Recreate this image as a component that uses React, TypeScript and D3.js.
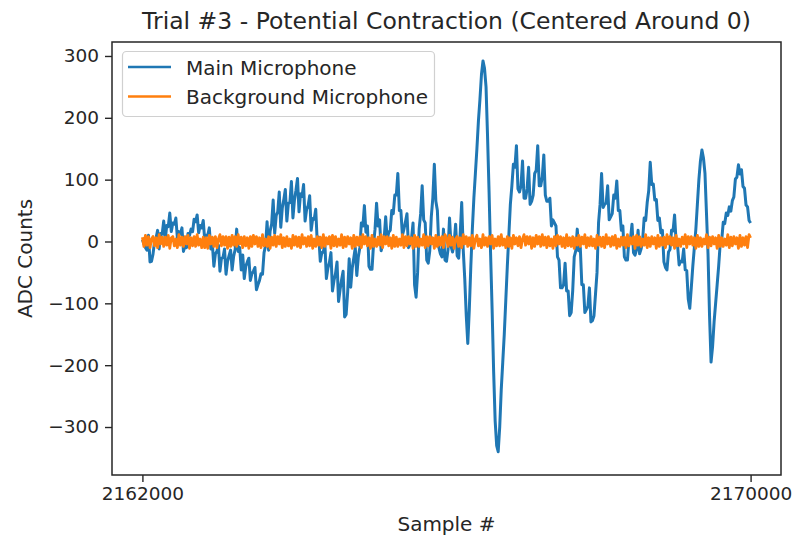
import React, { useEffect, useRef } from 'react';
import * as d3 from 'd3';

// samples start at 2162000, one value every 20 samples
const sampleStart = 2162000;
const sampleStep = 20;

const mainMic = [
  3, -4, -10, -14, 10, -33, -32, -20, 0, 6, 18, -12, 13, 12, 33, 2, 26, 24, 46, 16,
  30, 28, 38, 6, 16, 12, 22, -16, -7, -10, 13, 10, 20, 16, 36, 32, 43, 14, 26, 22,
  34, 2, 10, 10, 22, -12, -4, -40, -20, -16, -6, -48, -27, -26, -12, -53, -32, -23, -14, -46,
  -24, -13, 20, -16, -10, -46, -22, -60, -40, -33, -27, -63, -52, -48, -42, -78, -70, -63, -52, -53,
  -18, -7, 32, -14, 17, 28, 67, 13, 42, 48, 80, 23, 54, 68, 84, 33, 62, 63, 97, 38,
  67, 83, 102, 48, 77, 73, 92, 33, 52, 58, 74, 18, 37, 36, 52, -2, 7, -32, -18, -17,
  -3, -60, -43, -34, -18, -80, -63, -52, -33, -97, -78, -62, -48, -122, -118, -82, -28, -74, -43, -27,
  -10, -55, -25, -10, 30, 25, 58, 15, 25, -40, -45, -45, -5, 20, 62, 25, 35, -15, -5, 5,
  40, 2, 15, 18, 50, 45, 75, 75, 110, 50, 50, 10, 20, 32, 45, -10, -5, 5, 30, -70,
  -90, -50, 20, 45, 90, 35, 30, -30, -35, -15, 40, 70, 125, 65, 50, -10, -20, -25, 20, -30,
  -32, -13, 38, -8, -17, -3, 28, -23, -27, 12, 63, -13, -60, -120, -165, -110, -40, 20, 70, 110,
  150, 195, 230, 270, 292, 280, 250, 170, 80, -20, -110, -210, -290, -330, -340, -300, -240, -195, -150, -95,
  -40, 10, 60, 90, 125, 120, 155, 85, 80, 90, 130, 70, 70, 85, 120, 60, 65, 75, 110, 115,
  155, 90, 90, 105, 140, 75, 65, 65, 70, 25, 35, 30, 25, -25, -30, -75, -75, -70, -35, -80,
  -80, -120, -115, -80, -25, -15, 20, -15, -10, -70, -70, -115, -110, -105, -75, -130, -128, -120, -85, -50,
  30, 60, 110, 55, 60, 62, 90, 35, 40, 45, 75, 70, 98, 50, 50, 18, 25, -25, -30, -30,
  3, 4, 28, -18, -22, -13, 18, -20, -12, 2, 38, 34, 63, 82, 128, 92, 93, 67, 68, 34,
  38, 14, 18, -33, -42, -46, -17, -13, 18, 17, 43, 0, -7, -38, -32, -33, -12, -46, -47, -93,
  -108, -75, -40, -10, 20, 60, 100, 130, 148, 135, 110, 45, -20, -120, -195, -170, -130, -100, -70, -40,
  -4, 2, 31, 29, 46, 42, 56, 49, 66, 72, 101, 104, 124, 109, 116, 89, 86, 59, 56, 34,
  30,
];

const bgMic = [
  7, -8, 10, -6, 8, -10, 4, 8, -7, 6, -10, 11, -4, 7, -8, 7, -6, 10, -11, 6,
  8, -7, 4, -10, 11, -6, 7, -8, 8, -4, 10, -11, 6, -7, 8, -8, 11, -6, 4, -10,
  7, -10, 6, -11, 10, -4, 7, -8, 8, -10, 4, 11, -7, 8, -6, 8, -11, 7, -8, 10,
  -6, 8, -8, 11, -4, 7, -10, 8, -7, 6, -11, 8, -8, 10, -4, 8, -8, 6, -10, 11,
  -7, 4, -8, 8, -11, 7, -6, 10, -8, 8, -4, 11, -10, 6, -8, 8, -7, 4, -11, 10,
  -6, 8, -8, 7, -10, 11, -4, 6, -8, 8, -7, 10, -11, 4, -8, 8, -6, 7, -10, 11,
  -8, 6, -4, 8, -11, 10, -7, 8, -8, 4, -6, 11, -10, 7, -8, 8, -4, 6, -11, 10,
  -8, 7, -6, 8, -10, 11, -4, 8, -7, 6, -11, 10, -8, 4, -8, 7, -6, 11, -10, 8,
  -4, 8, -7, 6, -11, 10, -8, 7, -8, 4, -6, 11, -10, 8, -7, 8, -4, 6, -11, 10,
  -8, 7, -8, 4, -6, 11, -10, 8, -7, 8, -4, 6, -11, 10, -8, 7, -6, 8, -10, 11,
  6, -8, 10, -6, 7, -11, 4, 8, -8, 6, -10, 11, -4, 8, -8, 6, -7, 10, -11, 4,
  10, -7, 4, -10, 11, -6, 6, -8, 8, -4, 10, -11, 4, -7, 8, -7, 11, -6, 4, -10,
  8, -8, 6, -11, 10, -4, 6, -7, 8, -10, 4, 11, -6, 8, -4, 8, -11, 6, -8, 10,
  -4, 8, -8, 11, -6, 7, -10, 8, -7, 4, -11, 8, -7, 10, -4, 8, -8, 6, -10, 11,
  -7, 6, -8, 8, -11, 6, -6, 10, -8, 7, -4, 11, -10, 6, -7, 8, -7, 4, -11, 10,
  -6, 7, -8, 7, -10, 11, -4, 6, -8, 8, -6, 10, -11, 4, -8, 7, -6, 7, -10, 11,
  -7, 6, -4, 8, -11, 10, -6, 8, -8, 4, -6, 11, -10, 6, -8, 8, -4, 6, -11, 10,
  -8, 6, -6, 7, -10, 11, -4, 8, -6, 6, -11, 10, -7, 4, -8, 7, -4, 11, -10, 8,
  -4, 8, -6, 6, -11, 10, -8, 6, -8, 4, -4, 11, -10, 7, -7, 8, -4, 6, -11, 10,
  -8, 6, -8, 4, -6, 11, -10, 7, -7, 8, -4, 6, -11, 10, -8, 6, -6, 8, -10, 11,
  6,
];

const seriesNames = ['Main Microphone', 'Background Microphone'];
const seriesColors = ['#1f77b4', '#ff7f0e'];
const xTicks = [2162000, 2170000];
const yTicks = [-300, -200, -100, 0, 100, 200, 300];

const W = 794;
const H = 540;
const font = 'DejaVu Sans, sans-serif';

function MicChart() {
  const svgRef = useRef<SVGSVGElement>(null);

  useEffect(() => {
    const svg = d3.select(svgRef.current);
    svg.selectAll('*').remove();

    const left = 112, right = 781, top = 42, bottom = 475;

    const x = d3.scaleLinear().domain([2161600, 2170400]).range([left, right]);
    const y = d3.scaleLinear().domain([-377.6, 322.6]).range([bottom, top]);

    const line = d3.line<number>()
      .x((d, i) => x(sampleStart + i * sampleStep))
      .y(d => y(d));

    const plot = svg.append('g');
    [mainMic, bgMic].forEach((s, k) => {
      plot.append('path')
        .attr('d', line(s))
        .attr('fill', 'none')
        .attr('stroke', seriesColors[k])
        .attr('stroke-width', k === 0 ? 3 : 2.8)
        .attr('stroke-linejoin', 'round');
    });

    // axes
    const yAxis = svg.append('g')
      .attr('transform', `translate(${left},0)`)
      .call(d3.axisLeft(y).tickValues(yTicks).tickSize(7).tickPadding(6));
    const xAxis = svg.append('g')
      .attr('transform', `translate(0,${bottom})`)
      .call(d3.axisBottom(x).tickValues(xTicks).tickFormat(d3.format('d')).tickSize(7).tickPadding(5));

    [yAxis, xAxis].forEach(a => {
      a.select('.domain').remove();
      a.selectAll('line').attr('stroke', '#262626').attr('stroke-width', 1.4);
      a.selectAll('text')
        .attr('fill', '#262626')
        .style('font-family', font)
        .style('font-size', '18.5px');
    });

    // frame
    svg.append('rect')
      .attr('x', left).attr('y', top)
      .attr('width', right - left).attr('height', bottom - top)
      .attr('fill', 'none')
      .attr('stroke', '#262626')
      .attr('stroke-width', 1.5);

    // title + labels
    svg.append('text')
      .attr('x', (left + right) / 2).attr('y', 28.5)
      .attr('text-anchor', 'middle')
      .style('font-family', font).style('font-size', '23.5px')
      .attr('fill', '#262626')
      .text('Trial #3 - Potential Contraction (Centered Around 0)');

    svg.append('text')
      .attr('x', (left + right) / 2).attr('y', 531)
      .attr('text-anchor', 'middle')
      .style('font-family', font).style('font-size', '20px')
      .attr('fill', '#262626')
      .text('Sample #');

    svg.append('text')
      .attr('transform', `translate(32,${(top + bottom) / 2}) rotate(-90)`)
      .attr('text-anchor', 'middle')
      .style('font-family', font).style('font-size', '20px')
      .attr('fill', '#262626')
      .text('ADC Counts');

    // legend
    const lg = svg.append('g');
    lg.append('rect')
      .attr('x', 122.5).attr('y', 51.5)
      .attr('width', 312).attr('height', 65)
      .attr('rx', 4)
      .attr('fill', 'white').attr('fill-opacity', 0.8)
      .attr('stroke', '#d0d0d0').attr('stroke-width', 1.2);

    seriesNames.forEach((name, k) => {
      const ly = 67 + k * 29.5;
      lg.append('line')
        .attr('x1', 128).attr('x2', 171)
        .attr('y1', ly).attr('y2', ly)
        .attr('stroke', seriesColors[k]).attr('stroke-width', 2.7);
      lg.append('text')
        .attr('x', 186).attr('y', ly + 7.5)
        .style('font-family', font).style('font-size', '20px')
        .attr('fill', '#262626')
        .text(name);
    });
  }, []);

  return <svg ref={svgRef} width={W} height={H} />;
}

export default function App() {
  return (
    <div style={{ position: 'absolute', left: 0, top: 0, width: W, height: H, background: 'white' }}>
      <MicChart />
    </div>
  );
}
